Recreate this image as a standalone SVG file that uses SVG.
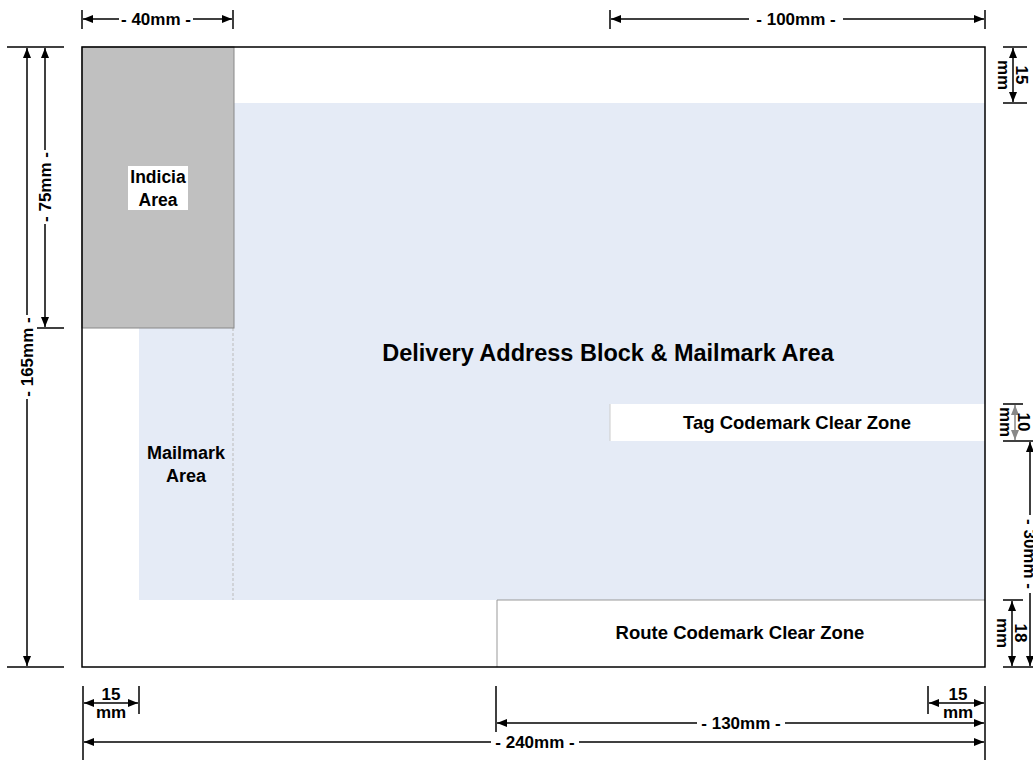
<svg xmlns="http://www.w3.org/2000/svg" width="1033" height="760" viewBox="0 0 1033 760">
<defs>
<marker id="ah" markerUnits="userSpaceOnUse" markerWidth="11" markerHeight="9" refX="10" refY="4" orient="auto-start-reverse"><path d="M0,0 L10,4 L0,8 z" fill="#000"/></marker>
<marker id="ahg" markerUnits="userSpaceOnUse" markerWidth="11" markerHeight="9" refX="10" refY="4" orient="auto-start-reverse"><path d="M0,0 L10,4 L0,8 z" fill="#888"/></marker>
<style>
.t{font-family:"Liberation Sans",Arial,sans-serif;font-weight:bold;fill:#000}
.dim{stroke:#000;stroke-width:1.5;fill:none}
.arr{stroke:#000;stroke-width:1.5;fill:none;marker-start:url(#ah);marker-end:url(#ah)}
.d{font-size:17px}
.bg{fill:#fff}
</style>
</defs>
<rect width="1033" height="760" fill="#fff"/>
<g id="envelope">
<rect x="82" y="47" width="903" height="620" fill="#fff"/>
</g>
<g id="delivery-area">
<path d="M234,103 H985 V600 H139 V328 H234 Z" fill="#e5ebf6"/>
<line x1="233" y1="328" x2="233" y2="600" stroke="#bbb" stroke-width="1" stroke-dasharray="3,2"/>
<text class="t" x="608" y="361" font-size="23.5" text-anchor="middle">Delivery Address Block &amp; Mailmark Area</text>
</g>
<g id="indicia">
<rect x="82" y="47" width="152" height="281" fill="#c0c0c0" stroke="#888" stroke-width="1"/>
<rect x="128" y="166" width="60" height="44" fill="#fff"/>
<text class="t" x="158" y="183" font-size="17.5" text-anchor="middle">Indicia</text>
<text class="t" x="158" y="206" font-size="17.5" text-anchor="middle">Area</text>
</g>
<g id="mailmark">
<text class="t" x="186" y="459" font-size="18" text-anchor="middle">Mailmark</text>
<text class="t" x="186" y="482" font-size="18" text-anchor="middle">Area</text>
</g>
<g id="tag-zone">
<rect x="610" y="404" width="375" height="37" fill="#fff"/>
<line x1="610" y1="404" x2="610" y2="441" stroke="#ccc" stroke-width="1"/>
<text class="t" x="797" y="429" font-size="18.5" text-anchor="middle">Tag Codemark Clear Zone</text>
</g>
<g id="route-zone">
<rect x="497" y="600" width="488" height="67" fill="#fff"/>
<path d="M497,667 V600 H985" fill="none" stroke="#999" stroke-width="1"/>
<text class="t" x="740" y="639" font-size="18.5" text-anchor="middle">Route Codemark Clear Zone</text>
</g>
<g id="border">
<rect x="82" y="47" width="903" height="620" fill="none" stroke="#000" stroke-width="1.5"/>
</g>
<g id="dimensions">
<line class="dim" x1="82" y1="10" x2="82" y2="29"/>
<line class="dim" x1="233" y1="10" x2="233" y2="29"/>
<line class="arr" x1="83" y1="19" x2="232" y2="19"/>
<rect class="bg" x="119" y="9" width="74" height="20"/>
<text class="t d" x="156" y="25" text-anchor="middle">- 40mm -</text>
<line class="dim" x1="610" y1="10" x2="610" y2="29"/>
<line class="dim" x1="985" y1="10" x2="985" y2="29"/>
<line class="arr" x1="611" y1="19" x2="984" y2="19"/>
<rect class="bg" x="749" y="9" width="94" height="20"/>
<text class="t d" x="796" y="25" text-anchor="middle">- 100mm -</text>
<line class="dim" x1="7" y1="47" x2="64" y2="47"/>
<line class="dim" x1="7" y1="667" x2="64" y2="667"/>
<line class="dim" x1="37" y1="328" x2="64" y2="328"/>
<line class="arr" x1="27" y1="48" x2="27" y2="666"/>
<line class="arr" x1="45" y1="48" x2="45" y2="327"/>
<rect class="bg" x="17" y="315" width="20" height="84"/>
<text class="t d" transform="translate(27,357) rotate(-90)" y="6" text-anchor="middle">- 165mm -</text>
<rect class="bg" x="35" y="150" width="20" height="74"/>
<text class="t d" transform="translate(45,187) rotate(-90)" y="6" text-anchor="middle">- 75mm -</text>
<line class="dim" x1="1003" y1="47" x2="1027" y2="47"/>
<line class="dim" x1="1003" y1="103" x2="1027" y2="103"/>
<line class="arr" x1="1013" y1="48" x2="1013" y2="102"/>
<text class="t d" transform="translate(1013,75) rotate(90)" y="-3" text-anchor="middle">15</text>
<text class="t d" transform="translate(1013,75) rotate(90)" y="15" text-anchor="middle">mm</text>
<line class="dim" x1="1003" y1="404" x2="1023" y2="404"/>
<line class="dim" x1="1003" y1="441" x2="1033" y2="441"/>
<line x1="1015" y1="405" x2="1015" y2="440" stroke="#888" stroke-width="1.5" marker-start="url(#ahg)" marker-end="url(#ahg)"/>
<text class="t d" transform="translate(1015,422) rotate(90)" y="-3" text-anchor="middle">10</text>
<text class="t d" transform="translate(1015,422) rotate(90)" y="15" text-anchor="middle">mm</text>
<line class="arr" x1="1030" y1="442" x2="1030" y2="666"/>
<rect class="bg" x="1021" y="515" width="20" height="78"/>
<text class="t d" transform="translate(1030,554) rotate(90)" y="6" text-anchor="middle">- 30mm -</text>
<line class="dim" x1="1003" y1="600" x2="1023" y2="600"/>
<line class="dim" x1="1003" y1="667" x2="1033" y2="667"/>
<line class="arr" x1="1012" y1="601" x2="1012" y2="666"/>
<text class="t d" transform="translate(1012,633) rotate(90)" y="-3" text-anchor="middle">18</text>
<text class="t d" transform="translate(1012,633) rotate(90)" y="15" text-anchor="middle">mm</text>
<line class="dim" x1="83" y1="686" x2="83" y2="760"/>
<line class="dim" x1="139" y1="686" x2="139" y2="714"/>
<line class="dim" x1="496" y1="686" x2="496" y2="733"/>
<line class="dim" x1="928" y1="686" x2="928" y2="714"/>
<line class="dim" x1="985" y1="686" x2="985" y2="760"/>
<line class="arr" x1="84" y1="703" x2="138" y2="703"/>
<text class="t d" x="111" y="700" text-anchor="middle">15</text>
<text class="t d" x="111" y="718" text-anchor="middle">mm</text>
<line class="arr" x1="929" y1="703" x2="984" y2="703"/>
<text class="t d" x="958" y="700" text-anchor="middle">15</text>
<text class="t d" x="958" y="718" text-anchor="middle">mm</text>
<line class="arr" x1="497" y1="723" x2="984" y2="723"/>
<rect class="bg" x="697" y="713" width="88" height="20"/>
<text class="t d" x="741" y="729" text-anchor="middle">- 130mm -</text>
<line class="arr" x1="84" y1="742" x2="984" y2="742"/>
<rect class="bg" x="491" y="732" width="88" height="20"/>
<text class="t d" x="535" y="748" text-anchor="middle">- 240mm -</text>
</g>
</svg>
